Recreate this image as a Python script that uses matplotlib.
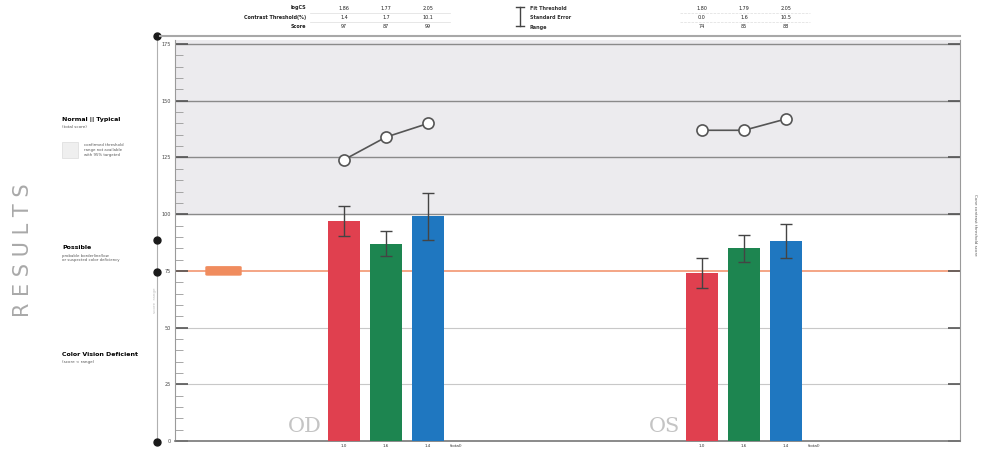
import matplotlib.pyplot as plt
from matplotlib.patches import FancyBboxPatch, Rectangle
from matplotlib.lines import Line2D

# ---- data ----
eyes = ["OD", "OS"]
cone_labels = ["1.0", "1.6", "1.4"]
od_scores = [97, 87, 99]
os_scores = [74, 85, 88]
od_errors = [6.5, 5.5, 10.5]
os_errors = [6.5, 6.0, 7.5]
od_thresholds = [124, 134, 140]
os_thresholds = [137, 137, 142]
od_logcs = ["1.86", "1.77", "2.05"]
os_logcs = ["1.80", "1.79", "2.05"]
od_contrast = ["1.4", "1.7", "10.1"]
os_contrast = ["0.0", "1.6", "10.5"]
grid_values = [0, 25, 50, 75, 100, 125, 150, 175]
pass_level = 75
normal_level = 100

bar_colors = ["#e0404f", "#1d8550", "#1f77c0"]
W, H = 981, 451
fig = plt.figure(figsize=(W / 100, H / 100), dpi=100)
fig.patch.set_facecolor("white")


def fx(px):
    return px / W


def fy(py):
    return 1 - py / H


ax_l, ax_r, ax_t, ax_b = 175, 960, 40, 441
ax = fig.add_axes([fx(ax_l), fy(ax_b), fx(ax_r - ax_l), (ax_b - ax_t) / H])
ymax = (ax_b - ax_t) / 56.7 * 25
ax.set_ylim(0, ymax)
ax.set_xlim(0, ax_r - ax_l)

# shaded "normal" band
ax.axhspan(normal_level, ymax, color="#ecebee", zorder=0)
for v in grid_values:
    if v == pass_level:
        continue
    c = "#8a8a8a" if v >= normal_level else "#c8c8c8"
    lw = 1.0 if v >= normal_level else 0.8
    ax.axhline(v, color=c, lw=lw, zorder=1)
ax.axhline(pass_level, color="#f4a585", lw=1.4, zorder=1)

# positions of the bar groups
group_centers = {"OD": 211, "OS": 569}
spacing = 42
bar_w = 32
for eye, scores, errs, thr in [
    ("OD", od_scores, od_errors, od_thresholds),
    ("OS", os_scores, os_errors, os_thresholds),
]:
    xs = [group_centers[eye] + (i - 1) * spacing for i in range(3)]
    ax.bar(xs, scores, width=bar_w, color=bar_colors, zorder=3)
    ax.errorbar(xs, scores, yerr=errs, fmt="none", ecolor="#444444",
                elinewidth=1.0, capsize=4, capthick=1.0, zorder=4)
    ax.plot(xs, thr, color="#555555", lw=1.2, marker="o", ms=8,
            mfc="white", mec="#555555", mew=1.2, zorder=5)
    for x, lab in zip(xs, cone_labels):
        ax.text(x, -2.3, lab, ha="center", va="center", fontsize=3, color="#333333",
                clip_on=False)
    ax.text(xs[2] + 22, -2.3, "(total)", ha="left", va="center", fontsize=3,
            color="#333333", clip_on=False)
    ax.text(xs[0] - 22, 2, eye, ha="right", va="bottom", fontsize=15,
            family="DejaVu Serif", color="#c4c4c4", zorder=2)

# spines and ticks
ax.spines["top"].set_visible(False)
ax.spines["left"].set_color("#9a9a9a")
ax.spines["right"].set_color("#9a9a9a")
ax.spines["bottom"].set_color("#777777")
ax.spines["bottom"].set_linewidth(1.2)
ax.set_xticks([])
ax.set_yticks(grid_values)
ax.set_yticklabels([str(v) for v in grid_values], fontsize=3.5, color="#444444")
ax.set_yticks(range(0, 176, 5), minor=True)
ax.tick_params(axis="y", which="major", direction="in", length=9, width=1.2, color="#555555", pad=3)
ax.tick_params(axis="y", which="minor", direction="in", length=6, width=0.6, color="#999999")
ax.tick_params(axis="y", right=True, which="major")

# pass-level marker pill
ax.add_patch(FancyBboxPatch((31, pass_level - 1.8), 35, 3.6,
                            boxstyle="round,pad=0,rounding_size=1.8",
                            mutation_aspect=0.1, fc="#f08c5e", ec="#f08c5e", zorder=6))

# outer scale line with dot markers
fig.add_artist(Line2D([fx(157), fx(157)], [fy(36), fy(444)], color="#b0b0b0", lw=0.8))
for py in [36, 240, 272, 442]:
    fig.add_artist(Line2D([fx(157)], [fy(py)], marker="o", ms=5, color="#1a1a1a"))
fig.text(fx(157), fy(300), "score  range", rotation=90, fontsize=3, color="#bbbbbb",
         ha="right", va="center")
fig.text(fx(975), fy(225), "Cone contrast threshold score", rotation=270, fontsize=3,
         color="#555555", ha="center", va="center")

# header table
fig.add_artist(Line2D([fx(160), fx(960)], [fy(36), fy(36)], color="#a8a8a8", lw=1.5))
hdr_rows = [("logCS", od_logcs, os_logcs),
            ("Contrast Threshold(%)", od_contrast, os_contrast),
            ("Score", [str(v) for v in od_scores], [str(v) for v in os_scores])]
for r, (name, od_vals, os_vals) in enumerate(hdr_rows):
    py = 8 + r * 9.5
    fig.text(fx(306), fy(py), name, fontsize=3.5, weight="bold", ha="right", va="center", color="#222222")
    for i in range(3):
        fig.text(fx(group_centers["OD"] + ax_l + (i - 1) * spacing), fy(py), od_vals[i],
                 fontsize=3.5, ha="center", va="center", color="#222222")
        fig.text(fx(group_centers["OS"] + ax_l + (i - 1) * spacing), fy(py), os_vals[i],
                 fontsize=3.5, ha="center", va="center", color="#222222")
for py in [12.5, 22]:
    fig.add_artist(Line2D([fx(310), fx(450)], [fy(py), fy(py)], color="#dddddd", lw=0.5))
    fig.add_artist(Line2D([fx(680), fx(810)], [fy(py), fy(py)], color="#dddddd", lw=0.5, ls="--"))

# error bar key
fig.add_artist(Line2D([fx(520), fx(520)], [fy(7), fy(26)], color="#444444", lw=1.0))
for py in [7, 26]:
    fig.add_artist(Line2D([fx(516), fx(524)], [fy(py), fy(py)], color="#444444", lw=1.0))
for r, name in enumerate(["Fit Threshold", "Standard Error", "Range"]):
    fig.text(fx(530), fy(8 + r * 9.5), name, fontsize=3.5, weight="bold", ha="left",
             va="center", color="#333333")

# category labels on the left
fig.text(fx(62), fy(119), "Normal || Typical", fontsize=4.5, weight="bold", ha="left", va="center")
fig.text(fx(62), fy(127), "(total score)", fontsize=3, ha="left", va="center", color="#555555")
fig.add_artist(Rectangle((fx(62), fy(158)), fx(16), 16 / H, fc="#efefef", ec="#dcdcdc", lw=0.5))
fig.text(fx(84), fy(150), "confirmed threshold\nrange not available\nwith 95% targeted",
         fontsize=2.8, ha="left", va="center", color="#555555", linespacing=1.2)
fig.text(fx(62), fy(247), "Possible", fontsize=4.5, weight="bold", ha="left", va="center")
fig.text(fx(62), fy(258), "probable borderline/low\nor suspected color deficiency",
         fontsize=2.8, ha="left", va="center", color="#555555", linespacing=1.2)
fig.text(fx(62), fy(354), "Color Vision Deficient", fontsize=4.5, weight="bold", ha="left", va="center")
fig.text(fx(62), fy(362), "(score < range)", fontsize=3, ha="left", va="center", color="#555555")

# section title
fig.text(fx(23), fy(250), "R E S U L T S", rotation=90, fontsize=15, color="#a9a9a9",
         ha="center", va="center", family="DejaVu Sans")

fig.savefig("out.png", dpi=100, facecolor="white")
